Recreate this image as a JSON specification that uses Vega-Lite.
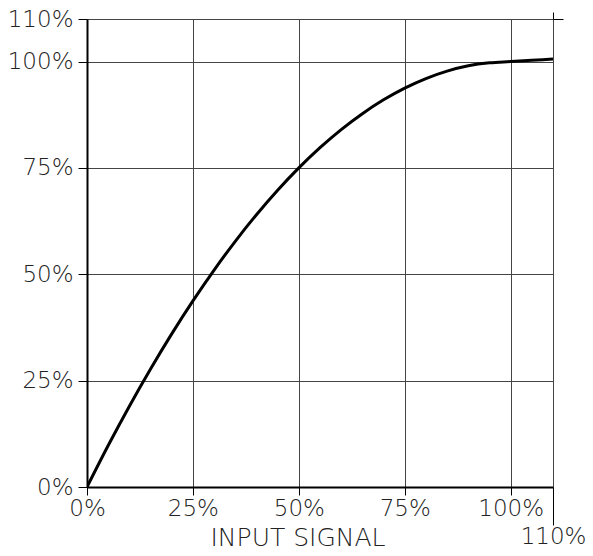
{
  "$schema": "https://vega.github.io/schema/vega-lite/v6.json",
  "width": 466,
  "height": 468,
  "autosize": {"type": "none"},
  "padding": {"left": 87, "top": 19, "right": 40, "bottom": 69},
  "background": "white",
  "config": {
    "view": {"stroke": null},
    "axis": {
      "labelFont": "DejaVu Sans",
      "labelFontWeight": 200,
      "labelFontSize": 23,
      "labelColor": "#222",
      "titleFont": "DejaVu Sans",
      "titleFontWeight": 200,
      "titleFontSize": 25,
      "titleColor": "#222",
      "gridColor": "#444",
      "gridWidth": 1,
      "gridOpacity": 1,
      "domainColor": "black",
      "domainWidth": 2,
      "tickColor": "black",
      "tickWidth": 1
    }
  },
  "data": {
    "values": [
      {"input": 0, "output": 0},
      {"input": 5, "output": 9.75},
      {"input": 10, "output": 19},
      {"input": 15, "output": 27.75},
      {"input": 20, "output": 36},
      {"input": 25, "output": 43.75},
      {"input": 30, "output": 51},
      {"input": 35, "output": 57.75},
      {"input": 40, "output": 64},
      {"input": 45, "output": 69.75},
      {"input": 50, "output": 75},
      {"input": 55, "output": 79.75},
      {"input": 60, "output": 84},
      {"input": 65, "output": 87.75},
      {"input": 70, "output": 91},
      {"input": 75, "output": 93.75},
      {"input": 80, "output": 96},
      {"input": 85, "output": 97.75},
      {"input": 90, "output": 99},
      {"input": 95, "output": 99.7},
      {"input": 100, "output": 100},
      {"input": 105, "output": 100.3},
      {"input": 110, "output": 100.6}
    ]
  },
  "resolve": {"scale": {"x": "independent", "y": "independent"}, "axis": {"x": "independent", "y": "independent"}},
  "layer": [
    {
      "mark": {"type": "line", "color": "black", "strokeWidth": 3, "interpolate": "monotone", "clip": true},
      "encoding": {
        "x": {
          "field": "input", "type": "quantitative",
          "scale": {"domain": [0, 110], "nice": false, "zero": false},
          "axis": {
            "values": [0, 25, 50, 75, 100, 110],
            "labelExpr": "datum.value + '%'",
            "title": "INPUT SIGNAL",
            "titleAlign": "left",
            "titleAnchor": "start",
            "titleX": 123,
            "titleY": 58,
            "titleBaseline": "alphabetic",
            "grid": true,
            "tickSize": {"condition": {"test": "datum.value == 110", "value": 38}, "value": 8},
            "labelPadding": {"condition": {"test": "datum.value == 110", "value": 0}, "value": 2},
            "labelFlush": false,
            "labelOverlap": false
          }
        },
        "y": {
          "field": "output", "type": "quantitative",
          "scale": {"domain": [0, 110], "nice": false, "zero": false},
          "axis": {
            "values": [0, 25, 50, 75, 100, 110],
            "labelExpr": "datum.value + '%'",
            "title": null,
            "grid": true,
            "tickSize": 9,
            "labelPadding": 5,
            "labelFlush": false,
            "labelOverlap": false
          }
        }
      }
    },
    {
      "mark": {"type": "point", "opacity": 0},
      "encoding": {
        "x": {
          "field": "input", "type": "quantitative",
          "scale": {"domain": [0, 110], "nice": false, "zero": false},
          "axis": {"orient": "top", "values": [110], "labels": false, "domain": false, "grid": false, "tickSize": 7, "title": null}
        },
        "y": {
          "field": "output", "type": "quantitative",
          "scale": {"domain": [0, 110], "nice": false, "zero": false},
          "axis": {"orient": "right", "values": [110], "labels": false, "domain": false, "grid": false, "tickSize": 10, "title": null}
        }
      }
    }
  ]
}
